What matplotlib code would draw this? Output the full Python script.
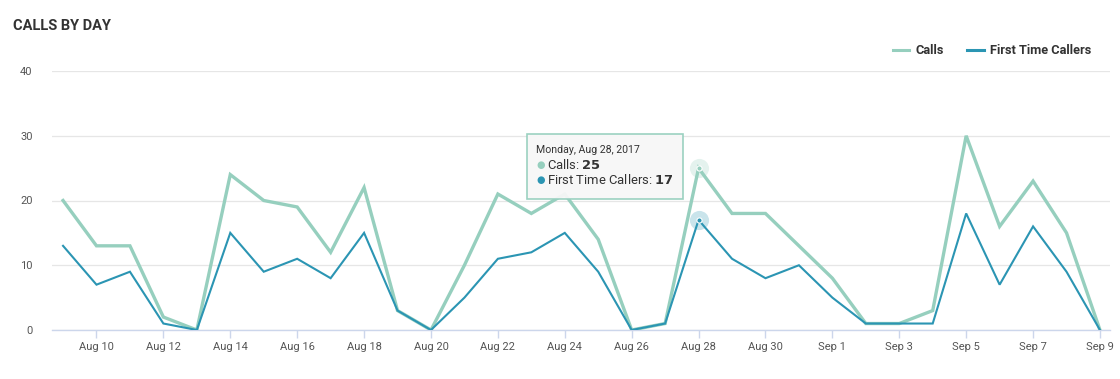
import matplotlib.pyplot as plt
import matplotlib.dates as mdates
from matplotlib.patches import Rectangle
import pandas as pd

# data
dates = pd.date_range('2017-08-09', '2017-09-09', freq='D')
calls = [20, 13, 13, 2, 0, 24, 20, 19, 12, 22, 3, 0, 10, 21, 18, 21, 14, 0, 1, 25,
         18, 18, 13, 8, 1, 1, 3, 30, 16, 23, 15, 0]
first_time = [13, 7, 9, 1, 0, 15, 9, 11, 8, 15, 3, 0, 5, 11, 12, 15, 9, 0, 1, 17,
              11, 8, 10, 5, 1, 1, 1, 18, 7, 16, 9, 0]
y_ticks = [0, 10, 20, 30, 40]
hover_day = pd.Timestamp('2017-08-28')

c_calls = '#96cfbe'
c_first = '#2b95b3'

plt.rcParams['font.family'] = ['Roboto', 'DejaVu Sans']

fig = plt.figure(figsize=(11.2, 3.79), dpi=100)
ax = fig.add_axes([52 / 1120, 1 - 330 / 379, 1058 / 1120, 259 / 379])

one_day = pd.Timedelta(days=1)
ax.set_xlim(dates[0] - one_day * 0.33, dates[-1] + one_day * 0.3)
ax.set_ylim(0, 40)

ax.plot(dates, calls, color=c_calls, lw=2.4, label='Calls', zorder=3,
        solid_joinstyle='miter')
ax.plot(dates, first_time, color=c_first, lw=1.5, label='First Time Callers',
        zorder=4, solid_joinstyle='miter')

# grid / axes style
ax.set_yticks(y_ticks)
ax.grid(axis='y', color='#e6e6e6', lw=0.9)
ax.set_axisbelow(True)
for s in ['top', 'right', 'left']:
    ax.spines[s].set_visible(False)
ax.spines['bottom'].set_color('#ccd6eb')
ax.spines['bottom'].set_linewidth(1)
ax.tick_params(axis='y', length=0, pad=14, labelsize=8, labelcolor='#555555')

tick_days = dates[1::2]
ax.set_xticks(tick_days)
ax.set_xticklabels([f"{d:%b} {d.day}" for d in tick_days])
ax.tick_params(axis='x', length=6, width=1, color='#ccd6eb', pad=3,
               labelsize=8, labelcolor='#555555')

# hover highlight at Aug 28
i = list(dates).index(hover_day)
ax.scatter([hover_day], [calls[i]], s=190, color=c_calls, alpha=0.25, lw=0, zorder=5)
ax.scatter([hover_day], [first_time[i]], s=190, color=c_first, alpha=0.25, lw=0, zorder=5)
ax.scatter([hover_day], [calls[i]], s=14, color=c_calls, edgecolor='white', lw=0.8, zorder=6)
ax.scatter([hover_day], [first_time[i]], s=14, color=c_first, edgecolor='white', lw=0.8, zorder=6)

# tooltip
box_x0 = dates[0] + one_day * 13.87
ax.add_patch(Rectangle((mdates.date2num(box_x0), 20.2), 4.66, 10.1,
                       facecolor='#f7f7f7', edgecolor=c_calls, lw=1.2,
                       alpha=0.95, zorder=7))
tx = dates[0] + one_day * 14.15
ax.text(tx, 27.8, f"{hover_day:%A}, {hover_day:%b} {hover_day.day}, {hover_day.year}",
        fontsize=7.6, color='#333333', va='center', zorder=8)
ax.text(tx, 25.5, '●', fontsize=7, color=c_calls, va='center', zorder=8)
ax.text(tx, 23.1, '●', fontsize=7, color=c_first, va='center', zorder=8)
tx2 = dates[0] + one_day * 14.47
ax.text(tx2, 25.5, f"Calls: $\\mathbf{{{calls[i]}}}$", fontsize=9.4, color='#333333',
        va='center', zorder=8)
ax.text(tx2, 23.1, f"First Time Callers: $\\mathbf{{{first_time[i]}}}$", fontsize=9.4,
        color='#333333', va='center', zorder=8)

# legend
leg = ax.legend(loc='center right', bbox_to_anchor=(1103 / 1120, 1 - 51 / 379),
                bbox_transform=fig.transFigure, ncol=2, frameon=False,
                handlelength=1.3, columnspacing=1.8, handletextpad=0.5,
                prop={'weight': 'bold', 'size': 9.2})
for t in leg.get_texts():
    t.set_color('#333333')
for h in leg.get_lines():
    h.set_linewidth(2.2)

fig.text(13 / 1120, 1 - 26 / 379, 'CALLS BY DAY', fontsize=10.5, fontweight='bold',
         color='#333333', va='center', ha='left')

fig.savefig('out.png', dpi=100)
